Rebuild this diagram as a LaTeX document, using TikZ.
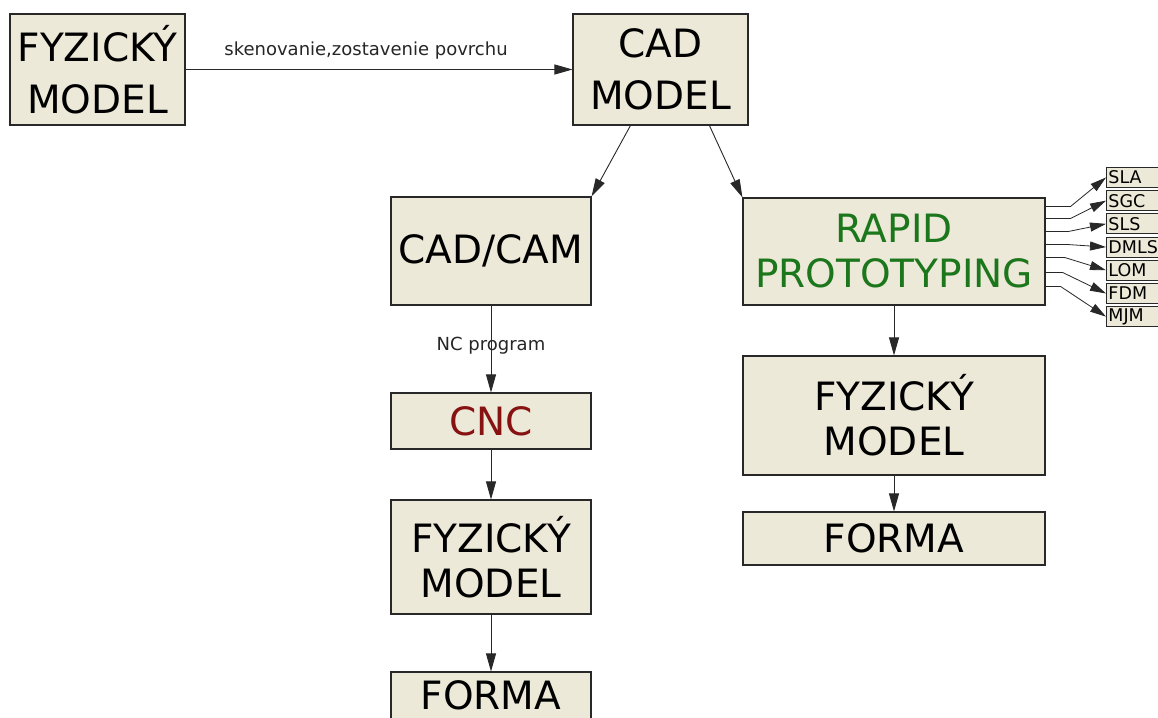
\documentclass[tikz,border=0pt]{standalone}
\usepackage{fontspec}
\setmainfont{DejaVu Sans}
\usetikzlibrary{arrows.meta,calc}
\definecolor{boxfill}{RGB}{236,233,216}
\definecolor{rpgreen}{RGB}{28,118,28}
\definecolor{cncred}{RGB}{135,18,18}
\definecolor{edge}{RGB}{40,40,40}
\begin{document}
\begin{tikzpicture}[x=1pt,y=-1pt,
  box/.style={draw=edge, line width=1.1pt, fill=boxfill, inner sep=0pt, align=center},
  bigA/.style={font=\fontsize{39}{52}\selectfont},
  bigB/.style={font=\fontsize{39}{45}\selectfont},
  tag/.style={draw=edge, line width=0.9pt, fill=boxfill, anchor=north west, inner xsep=2pt, inner ysep=0pt,
              text width=58pt, align=left, minimum height=20pt, font=\fontsize{17.5}{17.5}\selectfont},
  lbl/.style={font=\fontsize{18}{20}\selectfont, inner sep=0pt, text=black!85},
  conn/.style={draw=edge, line width=0.9pt, -{Triangle[length=18pt,width=10pt]}},
  sconn/.style={draw=edge, line width=0.8pt, -{Triangle[length=16pt,width=9pt]}}
]
\useasboundingbox (0,0) rectangle (1158,717);
\fill[white] (0,0) rectangle (1158,717);

% nodes
\node[box,bigA,minimum width=175pt,minimum height=111pt] (fyz1) at (97.5,69.5) {FYZICKÝ\\MODEL};
\node[box,bigA,minimum width=175pt,minimum height=111pt] (cad) at (660.5,69.5) {CAD\\MODEL};
\node[box,bigB,minimum width=200pt,minimum height=108pt] (cadcam) at (491,251) {CAD/CAM};
\node[box,bigB,minimum width=200pt,minimum height=56pt,text=cncred] (cnc) at (491,421) {CNC};
\node[box,bigB,minimum width=200pt,minimum height=114pt] (fyz2) at (491,557) {FYZICKÝ\\MODEL};
\node[box,bigB,minimum width=200pt,minimum height=47pt] (forma2) at (491,695.5) {FORMA};
\node[box,bigB,minimum width=302pt,minimum height=107pt,text=rpgreen] (rp) at (894,251.5) {RAPID\\PROTOTYPING};
\node[box,bigB,minimum width=302pt,minimum height=119pt] (fyz3) at (894,415.5) {FYZICKÝ\\MODEL};
\node[box,bigB,minimum width=302pt,minimum height=53pt] (forma3) at (894,538.5) {FORMA};

% small tags
\node[tag] (sla)  at (1106,167.0) {SLA};
\node[tag] (sgc)  at (1106,190.2) {SGC};
\node[tag] (sls)  at (1106,213.4) {SLS};
\node[tag] (dmls) at (1106,236.6) {DMLS};
\node[tag] (lom)  at (1106,259.8) {LOM};
\node[tag] (fdm)  at (1106,283.0) {FDM};
\node[tag] (mjm)  at (1106,306.2) {MJM};

% labels
\node[lbl] (scan) at (366,51) {skenovanie,zostavenie povrchu};
\node[lbl] (ncp) at (491,346) {NC program};

% connectors
\draw[conn] (fyz1.east) -- (cad.west);
\draw[conn] ($(cad.south west)+(58,0)$) -- (cadcam.north east);
\draw[conn] ($(cad.south west)+(137,0)$) -- (rp.north west);
\draw[conn] (cadcam.south) -- (cnc.north);
\draw[conn] (cnc.south) -- (fyz2.north);
\draw[conn] (fyz2.south) -- (forma2.north);
\draw[conn] (rp.south) -- (fyz3.north);
\draw[conn] (fyz3.south) -- (forma3.north);

\draw[sconn] ($(rp.north east)+(0,9)$)  -- ++(25,0) -- (sla.west);
\draw[sconn] ($(rp.north east)+(0,21)$) -- ++(25,0) -- (sgc.west);
\draw[sconn] ($(rp.north east)+(0,34)$) -- ++(23,0) -- (sls.west);
\draw[sconn] ($(rp.north east)+(0,47)$) -- ++(21,0) -- (dmls.west);
\draw[sconn] ($(rp.north east)+(0,60)$) -- ++(19,0) -- (lom.west);
\draw[sconn] ($(rp.north east)+(0,75)$) -- ++(17,0) -- (fdm.west);
\draw[sconn] ($(rp.north east)+(0,89)$) -- ++(15,0) -- (mjm.west);
\end{tikzpicture}
\end{document}
